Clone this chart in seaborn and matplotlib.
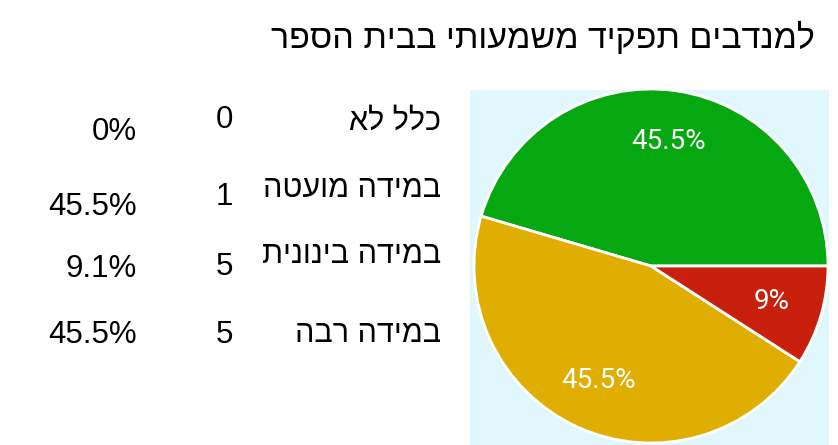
import matplotlib
matplotlib.use("Agg")
import matplotlib.pyplot as plt
import seaborn as sns

# data
title = "למנדבים תפקיד משמעותי בבית הספר"
categories = ["כלל לא", "במידה מועטה", "במידה בינונית", "במידה רבה"]
counts = [0, 1, 5, 5]
table_pct = ["0%", "45.5%", "9.1%", "45.5%"]

# pie slices, counter-clockwise from 3 o'clock
pie_values = [5, 5, 1]
pie_labels = ["45.5%", "45.5%", "9%"]
pie_colors = ["#05a811", "#e0ae00", "#c8200c"]

sns.set_theme(style="white")
plt.rcParams["font.family"] = ["Liberation Sans", "DejaVu Sans"]
plt.rcParams["text.color"] = "black"

W, H = 838, 445
fig = plt.figure(figsize=(W / 100, H / 100), dpi=100)
fig.patch.set_facecolor("white")


def fy(py):
    return 1 - py / H


def heb(s):
    # matplotlib has no bidi support, so flip to visual order
    return s[::-1]


fig.text(815 / W, fy(48), heb(title), ha="right", va="baseline", fontsize=24.5)

label_base = [130, 197, 263, 342]
count_base = [128, 205, 275, 343]
pct_base = [140, 215, 277, 343]
for i, cat in enumerate(categories):
    fig.text(441 / W, fy(label_base[i]), heb(cat), ha="right", va="baseline", fontsize=22)
    fig.text(233 / W, fy(count_base[i]), str(counts[i]), ha="right", va="baseline", fontsize=22.5)
    fig.text(137 / W, fy(pct_base[i]), table_pct[i], ha="right", va="baseline", fontsize=22.5)

# pie panel, one data unit = one pixel
x0, x1, y0, y1 = 470, 829, 90, 445
cx, cy, r = 651, 266, 177
ax = fig.add_axes([x0 / W, 1 - y1 / H, (x1 - x0) / W, (y1 - y0) / H])
wedges, texts = ax.pie(pie_values, labels=pie_labels, colors=pie_colors, startangle=0,
                       counterclock=True, radius=r, labeldistance=0.71,
                       wedgeprops=dict(edgecolor="white", linewidth=2),
                       textprops=dict(color="white", fontsize=20, family="Roboto"))
for t in texts:
    t.set_ha("center")
    t.set_va("center")
ax.set_aspect("auto")
ax.set_xlim(x0 - cx, x1 - cx)
ax.set_ylim(cy - y1, cy - y0)
ax.set_frame_on(True)
ax.set_facecolor("#e0f7fd")
for s in ax.spines.values():
    s.set_visible(False)
ax.set_xticks([])
ax.set_yticks([])

fig.savefig("out.png", dpi=100, facecolor="white")
